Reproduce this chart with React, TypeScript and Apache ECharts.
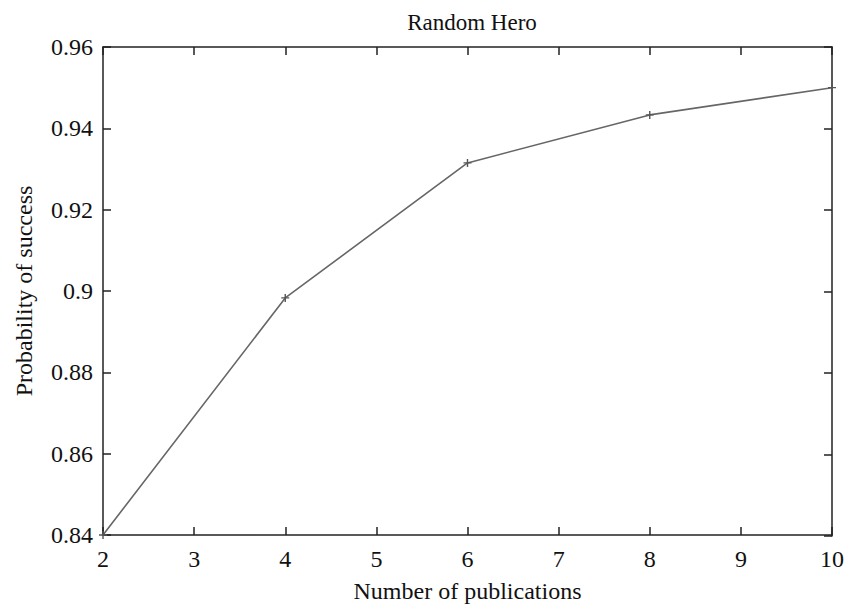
import React, { useEffect, useRef } from "react";
import * as echarts from "echarts";

const publications = [2, 4, 6, 8, 10];
const successProb = [0.84, 0.8983, 0.9315, 0.9433, 0.95];
const titleText = "Random Hero";
const xName = "Number of publications";
const yName = "Probability of success";

const FONT = "Liberation Serif";
const mkLine = () => ({ show: true, lineStyle: { color: "#222", width: 1.5 } });
const mkTick = () => ({ show: true, inside: true, length: 8, lineStyle: { color: "#222", width: 1.5 } });
const mkGrid = () => ({ left: 103, right: 16, top: 47, bottom: 72, containLabel: false });

export default function App() {
  const ref = useRef<HTMLDivElement>(null);
  useEffect(() => {
    if (!ref.current) return;
    const chart = echarts.init(ref.current, null, { renderer: "svg" });
    chart.setOption({
      animation: false,
      backgroundColor: "#fff",
      textStyle: { fontFamily: FONT },
      title: {
        text: titleText,
        left: 467,
        top: 6,
        textAlign: "center",
        textStyle: { fontFamily: FONT, fontSize: 23, fontWeight: "normal", color: "#111" },
      },
      grid: [mkGrid(), mkGrid()],
      xAxis: [
        {
          gridIndex: 0,
          type: "value",
          min: 2,
          max: 10,
          interval: 1,
          name: xName,
          nameLocation: "middle",
          nameGap: 44,
          nameTextStyle: { fontFamily: FONT, fontSize: 24, color: "#111" },
          axisLine: mkLine(),
          axisTick: mkTick(),
          splitLine: { show: false },
          axisLabel: { show: true, fontFamily: FONT, fontSize: 24, color: "#111", margin: 12 },
        },
        {
          gridIndex: 1,
          type: "value",
          position: "top",
          min: 2,
          max: 10,
          interval: 1,
          axisLine: mkLine(),
          axisTick: mkTick(),
          splitLine: { show: false },
          axisLabel: { show: false },
        },
      ],
      yAxis: [
        {
          gridIndex: 0,
          type: "value",
          min: 0.84,
          max: 0.96,
          interval: 0.02,
          name: yName,
          nameLocation: "middle",
          nameGap: 67,
          nameTextStyle: { fontFamily: FONT, fontSize: 24, color: "#111" },
          axisLine: mkLine(),
          axisTick: mkTick(),
          splitLine: { show: false },
          axisLabel: { show: true, fontFamily: FONT, fontSize: 24, color: "#111", margin: 10 },
        },
        {
          gridIndex: 1,
          type: "value",
          position: "right",
          min: 0.84,
          max: 0.96,
          interval: 0.02,
          axisLine: mkLine(),
          axisTick: mkTick(),
          splitLine: { show: false },
          axisLabel: { show: false },
        },
      ],
      series: [
        {
          type: "line",
          xAxisIndex: 0,
          yAxisIndex: 0,
          data: publications.map((x, i) => [x, successProb[i]]),
          lineStyle: { color: "#666", width: 1.6 },
          symbol: "path://M-1 0 L1 0 M0 -1 L0 1",
          symbolSize: 8,
          itemStyle: { color: "none", borderColor: "#555", borderWidth: 1.4 },
        },
      ],
    });
    return () => chart.dispose();
  }, []);
  return <div ref={ref} style={{ width: 848, height: 608, position: "absolute", left: 0, top: 0 }} />;
}
